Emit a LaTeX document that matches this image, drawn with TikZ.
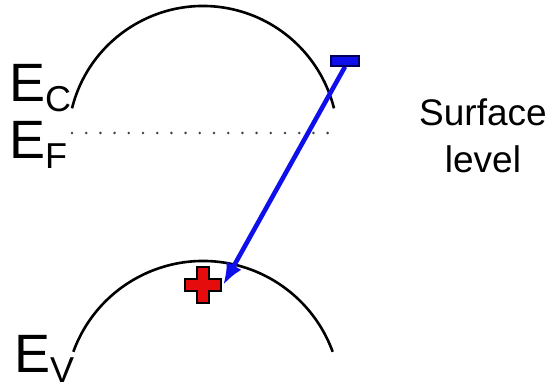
\documentclass[tikz,border=0pt]{standalone}
\usepackage{fontspec}
\setmainfont{Liberation Sans}
\usetikzlibrary{arrows.meta}
\definecolor{eblue}{RGB}{15,15,235}
\definecolor{hred}{RGB}{228,12,12}
\tikzset{
  band/.style={line width=2.6pt, black},
  fermi/.style={line width=2.8pt, dash pattern=on 0pt off 14.2pt, line cap=round, black!75},
  electron/.style={draw=blue!35!black, fill=eblue, line width=1.4pt,
                   minimum width=28pt, minimum height=10pt, inner sep=0pt},
  hole/.style={minimum width=40pt, minimum height=36pt, inner sep=0pt},
  transfer/.style={-{Latex[length=22pt,width=17pt]}, line width=4.6pt, eblue},
  lvl/.style={anchor=base west, inner sep=0pt, font=\fontsize{54}{54}\selectfont},
  note/.style={align=center, inner sep=0pt, font=\fontsize{37}{47}\selectfont}
}
\newcommand{\lvlsub}[1]{\raisebox{-10pt}{\fontsize{36}{36}\selectfont #1}}

\begin{document}
\begin{tikzpicture}[x=1pt, y=-1pt]
  \useasboundingbox (0,0) rectangle (555,390);
  % bands
  \draw[band] (203,141) ++(194:135) arc[start angle=194, end angle=346, radius=135];
  \draw[band] (203,399) ++(200:138) arc[start angle=200, end angle=340, radius=138];
  \draw[fermi] (72,133) -- (335,133);
  % labels
  \node[lvl] (ec) at (9,102) {E\lvlsub{C}};
  \node[lvl] (ef) at (9,159) {E\lvlsub{F}};
  \node[lvl] (ev) at (14,373) {E\lvlsub{V}};
  \node[note, anchor=north] (surf) at (483,99) {Surface\\level};
  % carriers
  \node[hole] (h) at (203,285) {};
  \fill[hred, draw=black, line width=1.4pt, shift={(h.center)}]
    (-6,-18) -- (6,-18) -- (6,-6) -- (18,-6) -- (18,6) -- (6,6) -- (6,18)
    -- (-6,18) -- (-6,6) -- (-18,6) -- (-18,-6) -- (-6,-6) -- cycle;
  \node[electron] (e) at (345,61) {};
  \draw[transfer] (e.south) -- (h.east);
  \node[electron] at (e) {};
\end{tikzpicture}
\end{document}
